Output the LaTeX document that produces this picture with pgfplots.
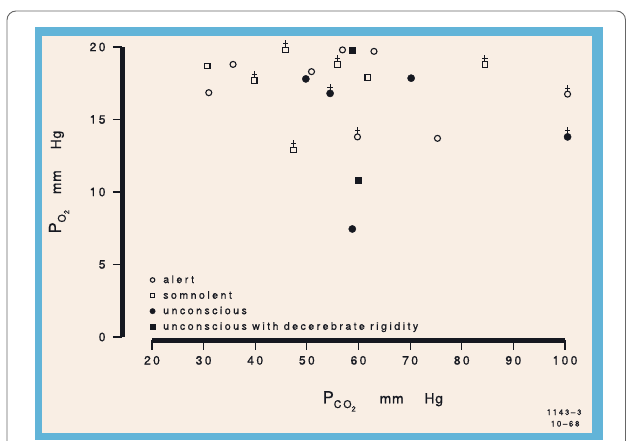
\documentclass[border=0pt]{standalone}
\usepackage{pgfplots}
\pgfplotsset{compat=1.18}
\usepackage{fontspec}
\setmainfont{TeX Gyre Heros}[LetterSpace=20, FakeBold=0.8]
\definecolor{frameblue}{RGB}{98,180,216}
\definecolor{paper}{RGB}{249,238,228}
\definecolor{ink}{RGB}{22,24,32}
\pgfdeclareplotmark{dagger}{%
  \pgfpathmoveto{\pgfqpoint{0pt}{3.0pt}}\pgfpathlineto{\pgfqpoint{0pt}{9.6pt}}%
  \pgfpathmoveto{\pgfqpoint{-2.7pt}{6.1pt}}\pgfpathlineto{\pgfqpoint{2.7pt}{6.1pt}}%
  \pgfusepathqstroke}
\newcommand\ticksize{\fontsize{12}{14}\selectfont}
\newcommand\legfont{\fontsize{10.5}{12}\selectfont\addfontfeatures{LetterSpace=24}}
\newcommand\unitlab{\fontsize{13.8}{15}\selectfont\addfontfeatures{LetterSpace=6}mm\hspace{21pt}Hg}
\begin{document}
\begin{tikzpicture}
\useasboundingbox (0pt,0pt) rectangle (626pt,440pt);
\fill[white] (0pt,0pt) rectangle (626pt,440pt);
\begin{scope}
\clip (0pt,0pt) rectangle (626pt,440pt);
\draw[black!60, line width=0.9pt, rounded corners=9pt] (7pt,-30pt) rectangle (625.5pt,429pt);
\fill[frameblue] (35pt,0pt) rectangle (603pt,413pt);
\fill[paper] (42pt,7pt) rectangle (592pt,404pt);
\end{scope}
\begin{axis}[
  at={(152pt,103pt)}, anchor=south west,
  scale only axis, width=413pt, height=290pt,
  xmin=20, xmax=100, ymin=0, ymax=20,
  axis x line*=bottom, axis y line*=left,
  axis x line shift=3pt, axis y line shift=29.5pt,
  axis line style={line width=5pt, ink, -},
  every outer x axis line/.append style={-},
  every outer y axis line/.append style={-},
  xtick={20,30,...,100}, ytick={0,5,...,20},
  tick align=outside, major tick length=9.5pt,
  tick style={line width=1.1pt, ink},
  tick label style={font=\ticksize, text=ink},
  xticklabel style={yshift=-3pt},
  yticklabel style={xshift=-4pt},
  /pgf/number format/assume math mode=true,
  clip=false,
  xlabel={{\fontsize{16.5}{17}\selectfont P}\raisebox{-4.7pt}{\fontsize{10.5}{11}\selectfont CO\raisebox{-3.5pt}{\fontsize{7.5}{8}\selectfont 2}}\hspace{24pt}\unitlab},
  xlabel style={at={(axis cs:52.4,-4.57)}, anchor=base west, text=ink},
  ylabel={{\fontsize{16.5}{17}\selectfont P}\raisebox{-4.7pt}{\fontsize{10.5}{11}\selectfont O\raisebox{-3.5pt}{\fontsize{7.5}{8}\selectfont 2}}\hspace{16pt}\unitlab},
  ylabel style={at={(axis cs:2.37,6.9)}, anchor=base west, text=ink},
  legend cell align=left,
  legend image code/.code={\draw[#1, every mark/.append style={scale=0.75}] plot coordinates {(0pt,0pt)};},
  legend style={draw=none, fill=none, at={(axis cs:19.55,4.4)}, anchor=north west,
    font=\legfont, text=ink, row sep=2.5pt, column sep=6pt, inner sep=0pt},
]
% alert
\addplot[only marks, mark=o, mark size=3pt, line width=1.1pt, ink]
  coordinates {(31,16.85) (35.7,18.8) (50.9,18.3) (56.9,19.8) (63,19.7) (59.8,13.8) (75.3,13.7) (100.5,16.75)};
\addlegendentry{alert}
% somnolent
\addplot[only marks, mark=square, mark size=2.8pt, line width=1.1pt, ink]
  coordinates {(30.7,18.7) (39.8,17.7) (45.9,19.8) (47.4,12.9) (55.9,18.8) (61.8,17.9) (84.5,18.8)};
\addlegendentry{somnolent}
% unconscious
\addplot[only marks, mark=*, mark size=3.6pt, ink, mark options={fill=ink, draw=ink}]
  coordinates {(49.8,17.8) (54.5,16.8) (58.8,7.45) (70.2,17.85) (100.5,13.8)};
\addlegendentry{unconscious}
% unconscious with decerebrate rigidity
\addplot[only marks, mark=square*, mark size=3.1pt, ink, mark options={fill=ink, draw=ink}]
  coordinates {(58.8,19.8) (59.9,10.8)};
\addlegendentry{unconscious with decerebrate rigidity}
% deaths (dagger)
\addplot[only marks, mark=dagger, line width=1pt, ink, forget plot]
  coordinates {(59.8,13.8) (100.5,16.75) (39.8,17.7) (45.9,19.8) (47.4,12.9) (55.9,18.8) (84.5,18.8) (54.5,16.8) (100.5,13.8)};
\end{axis}
\node[anchor=base east, font=\fontsize{8}{9}\selectfont, text=ink] at (585pt,25pt) {1143--3};
\node[anchor=base east, font=\fontsize{8}{9}\selectfont, text=ink] at (583pt,13.5pt) {10--68};
\end{tikzpicture}
\end{document}
